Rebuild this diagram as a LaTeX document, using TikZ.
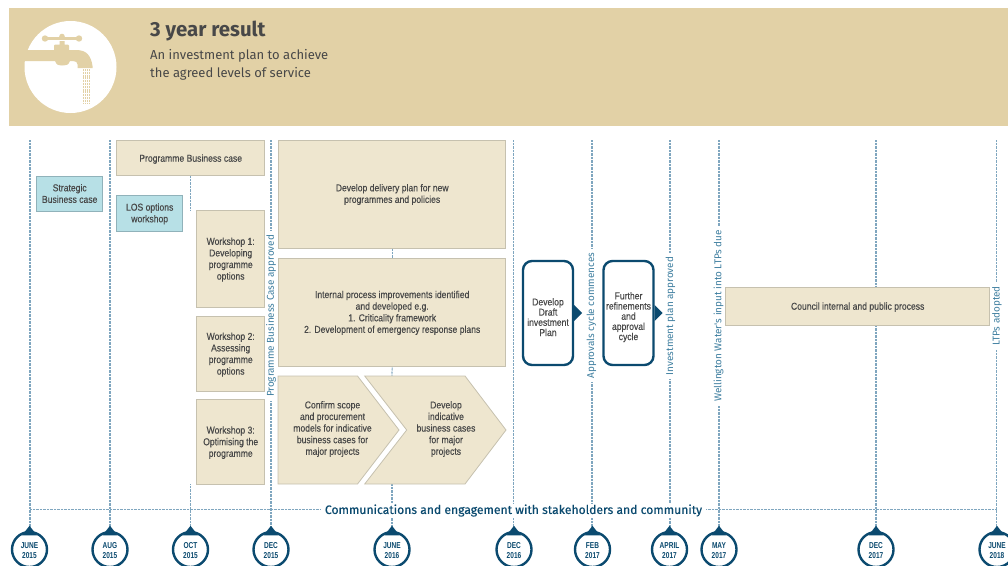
\documentclass[tikz,border=0pt]{standalone}
\usepackage{fontspec}
\usetikzlibrary{backgrounds}
\setmainfont{Liberation Sans}
\newfontfamily\boxf[FakeStretch=0.86,FakeBold=0.3]{Liberation Sans}
\newfontfamily\pinf[FakeStretch=0.76]{Liberation Sans}
\newfontfamily\headf{Fira Sans}
\newfontfamily\commf[FakeBold=0.4]{Fira Sans}
\newcommand\dn[1]{\rule{0pt}{#1pt}}
\definecolor{banner}{HTML}{E2D1A6}
\definecolor{cream}{HTML}{EEE6CF}
\definecolor{creamline}{HTML}{C6C1AF}
\definecolor{aqua}{HTML}{B7E0E6}
\definecolor{aqualine}{HTML}{90B2BA}
\definecolor{navy}{HTML}{0B4A6F}
\definecolor{dotline}{HTML}{7FA6BF}
\definecolor{lab}{HTML}{3F7FA0}
\definecolor{ink}{HTML}{484848}
\tikzset{
 boxtext/.style={font=\boxf\fontsize{10}{11.6}\selectfont,text=ink,align=center,inner sep=0pt},
 box/.style={boxtext,draw=creamline,fill=cream,line width=0.8pt},
 aquabox/.style={boxtext,draw=aqualine,fill=aqua,line width=0.8pt},
 roundbox/.style={boxtext,font=\boxf\fontsize{10}{10.2}\selectfont,draw=navy,fill=white,line width=2.4pt,rounded corners=9pt,minimum width=50pt,minimum height=104pt},
 pin/.style={circle,draw=navy,fill=white,line width=2.4pt,minimum size=35pt,inner sep=0pt,align=center,text=navy,font=\pinf\bfseries\fontsize{8.6}{9.2}\selectfont},
 mile/.style={rotate=90,fill=white,text=lab,inner xsep=4pt,inner ysep=0.5pt,font=\headf\fontsize{9.9}{11}\selectfont},
 dots/.style={draw=dotline,line width=1.2pt,dash pattern=on 0.8pt off 0.6pt},
}
\begin{document}
\begin{tikzpicture}[x=1pt,y=-1pt]
\clip (0,0) rectangle (1008,565);
% banner
\fill[banner] (9,8) rectangle (1008,126);
\node[circle,fill=white,minimum size=92pt,inner sep=0pt] (disc) at (70.5,67) {};
\fill[banner] (24,50) -- (54,50) -- (54,45.5) .. controls (54,44.5) .. (55,44.5) -- (59.5,44.5) -- (59.5,41) -- (64.5,41) -- (64.5,44.5) -- (68,44.5) .. controls (69,44.5) .. (69,45.5) -- (69,50) -- (76,50)
  .. controls (87,50) and (91,56) .. (92.5,66) -- (92.5,68) -- (77.5,68) -- (77.5,64.5) .. controls (77,62) .. (73,61) -- (70,61)
  .. controls (68,65) .. (62,65.5) .. controls (57,65) .. (55,61) -- (24,61) -- cycle;
\draw[banner,line width=3.4pt,line cap=round] (45,38.5) -- (79,38.5);
\fill[banner] (62,36.5) circle (2.8);
\fill[banner] (45,38.5) circle (3.2);
\fill[banner] (79,38.5) circle (3.2);
\foreach \wx in {83,85.3,87.6,89.9}
  \draw[banner,line width=1pt,dash pattern=on 2pt off 0.8pt] (\wx,69) -- (\wx,103);
\node[anchor=base west,inner sep=0pt,text=ink,font=\headf\bfseries\fontsize{20.4}{22}\selectfont] (title) at (150,36.7) {3 year result};
\node[anchor=base west,inner sep=0pt,text=ink,font=\headf\fontsize{13}{18}\selectfont,align=left] (sub) at (150,77) {An investment plan to achieve\\the agreed levels of service};
% boxes
\node[aquabox,minimum width=66pt,minimum height=35pt] (sbc) at (69.7,193.5) {Strategic\\Business case};
\node[aquabox,minimum width=66pt,minimum height=36pt] (los) at (149.7,213) {\dn{9}LOS options\\workshop};
\node[box,minimum width=148pt,minimum height=35pt] (pbc) at (190.7,158) {\dn{9.5}Programme Business case};
\node[box,minimum width=68pt,minimum height=97pt] (w1) at (230.7,258.5) {\dn{9.5}Workshop 1:\\Developing\\programme\\options};
\node[box,minimum width=68pt,minimum height=75pt] (w2) at (230.7,353.5) {\dn{9.5}Workshop 2:\\Assessing\\programme\\options};
\node[box,minimum width=68pt,minimum height=85pt] (w3) at (230.7,441.5) {\dn{9.5}Workshop 3:\\Optimising the\\programme};
\node[box,minimum width=227pt,minimum height=108pt] (ddp) at (392.2,194.5) {Develop delivery plan for new\\programmes and policies};
\node[box,minimum width=227pt,minimum height=108pt] (ipi) at (392.2,312) {\dn{9}Internal process improvements identified\\and developed e.g.\\1. Criticality framework\\2. Development of emergency response plans};
\draw[creamline,fill=cream,line width=0.8pt] (278,376) -- (357.5,376) -- (399,430) -- (357.5,484) -- (278,484) -- cycle;
\draw[creamline,fill=cream,line width=0.8pt] (364.7,376) -- (465,376) -- (506,430) -- (465,484) -- (364.7,484) -- (406.7,430) -- cycle;
\node[boxtext] (csp) at (332.5,429) {Confirm scope\\and procurement\\models for indicative\\business cases for\\major projects};
\node[boxtext] (dib) at (446,429) {Develop\\indicative\\business cases\\for major\\projects};
\node[roundbox] (draft) at (548,313) {\dn{15.5}Develop\\Draft\\investment\\Plan};
\node[roundbox] (further) at (628.5,313) {\dn{15.5}Further\\refinements\\and\\approval\\cycle};
\fill[navy] (draft.east) ++(0,-8) -- ++(8,8) -- ++(-8,8) -- cycle;
\fill[navy] (further.east) ++(0,-8) -- ++(8,8) -- ++(-8,8) -- cycle;
\node[box,minimum width=264pt,minimum height=38pt] (coun) at (857.7,306) {\dn{9.5}Council internal and public process};
% milestone labels
\node[mile] (m4) at (271,316) {Programme Business Case approved};
\node[mile] (m7) at (591.5,315.5) {Approvals cycle commences};
\node[mile] (m8) at (670.5,316) {Investment plan approved};
\node[mile] (m9) at (718.5,316) {Wellington Water's input into LTPs due};
\node[mile] (m11) at (997,316) {LTPs adopted};
% pins
\node[pin] (p1) at (29.5,549.5) {\dn{8.2}JUNE\\2015};
\node[pin] (p2) at (110,549.5) {\dn{8.2}AUG\\2015};
\node[pin] (p3) at (190.5,549.5) {\dn{8.2}OCT\\2015};
\node[pin] (p4) at (271,549.5) {\dn{8.2}DEC\\2015};
\node[pin] (p5) at (392,549.5) {\dn{8.2}JUNE\\2016};
\node[pin] (p6) at (514,549.5) {\dn{8.2}DEC\\2016};
\node[pin] (p7) at (592.5,549.5) {\dn{8.2}FEB\\2017};
\node[pin] (p8) at (669.5,549.5) {\dn{8.2}APRIL\\2017};
\node[pin] (p9) at (719,549.5) {\dn{8.2}MAY\\2017};
\node[pin] (p10) at (876,549.5) {\dn{8.2}DEC\\2017};
\node[pin] (p11) at (997,549.5) {\dn{8.2}JUNE\\2018};
\foreach \p in {p1,p2,p3,p4,p5,p6,p7,p8,p9,p10,p11}
  \fill[navy] (\p.north) ++(-7.5,4.5) -- ++(7.5,-9.5) -- ++(7.5,9.5) -- cycle;
\node[inner sep=0pt,fill=white,inner xsep=4pt,minimum height=14pt,text=navy,font=\commf\fontsize{12.15}{14}\selectfont] (comm) at (513.5,510.5) {Communications and engagement with stakeholders and community};
% tops of the time lines
\coordinate (t1) at (30,140);
\coordinate (t2) at (110,140);
\coordinate (t4) at (271,140);
\coordinate (t6) at (513.5,140);
\coordinate (t7) at (592,140);
\coordinate (t8) at (670,140);
\coordinate (t9) at (719,140);
\coordinate (t10) at (876,140);
\coordinate (t11) at (996.5,140);
\coordinate (h1) at (30,509.5);
\coordinate (h2) at (996.5,509.5);
\begin{scope}[on background layer]
\draw[dots] (t1) -- (t1 |- p1.north);
\draw[dots] (t2) -- (t2 |- p2.north);
\draw[dots] (pbc.south -| p3.north) -- (w1.north -| p3.north);
\draw[dots] (w3.south -| p3.north) -- (p3.north);
\draw[dots] (t4) -- (t4 |- m4.east);
\draw[dots] (t4 |- m4.west) -- (t4 |- p4.north);
\draw[dots] (ddp.south) -- (ipi.north);
\draw[dots] (ipi.south) -- (392,376);
\draw[dots] (392,484) -- (p5.north);
\draw[dots] (t6) -- (t6 |- p6.north);
\draw[dots] (t7) -- (t7 |- m7.east);
\draw[dots] (t7 |- m7.west) -- (t7 |- p7.north);
\draw[dots] (t8) -- (t8 |- m8.east);
\draw[dots] (t8 |- m8.west) -- (t8 |- p8.north);
\draw[dots] (t9) -- (t9 |- m9.east);
\draw[dots] (t9 |- m9.west) -- (t9 |- p9.north);
\draw[dots] (t10) -- (t10 |- p10.north);
\draw[dots] (t11) -- (t11 |- m11.east);
\draw[dots] (t11 |- m11.west) -- (t11 |- p11.north);
\draw[dots] (h1) -- (h2);
\end{scope}
\end{tikzpicture}
\end{document}
